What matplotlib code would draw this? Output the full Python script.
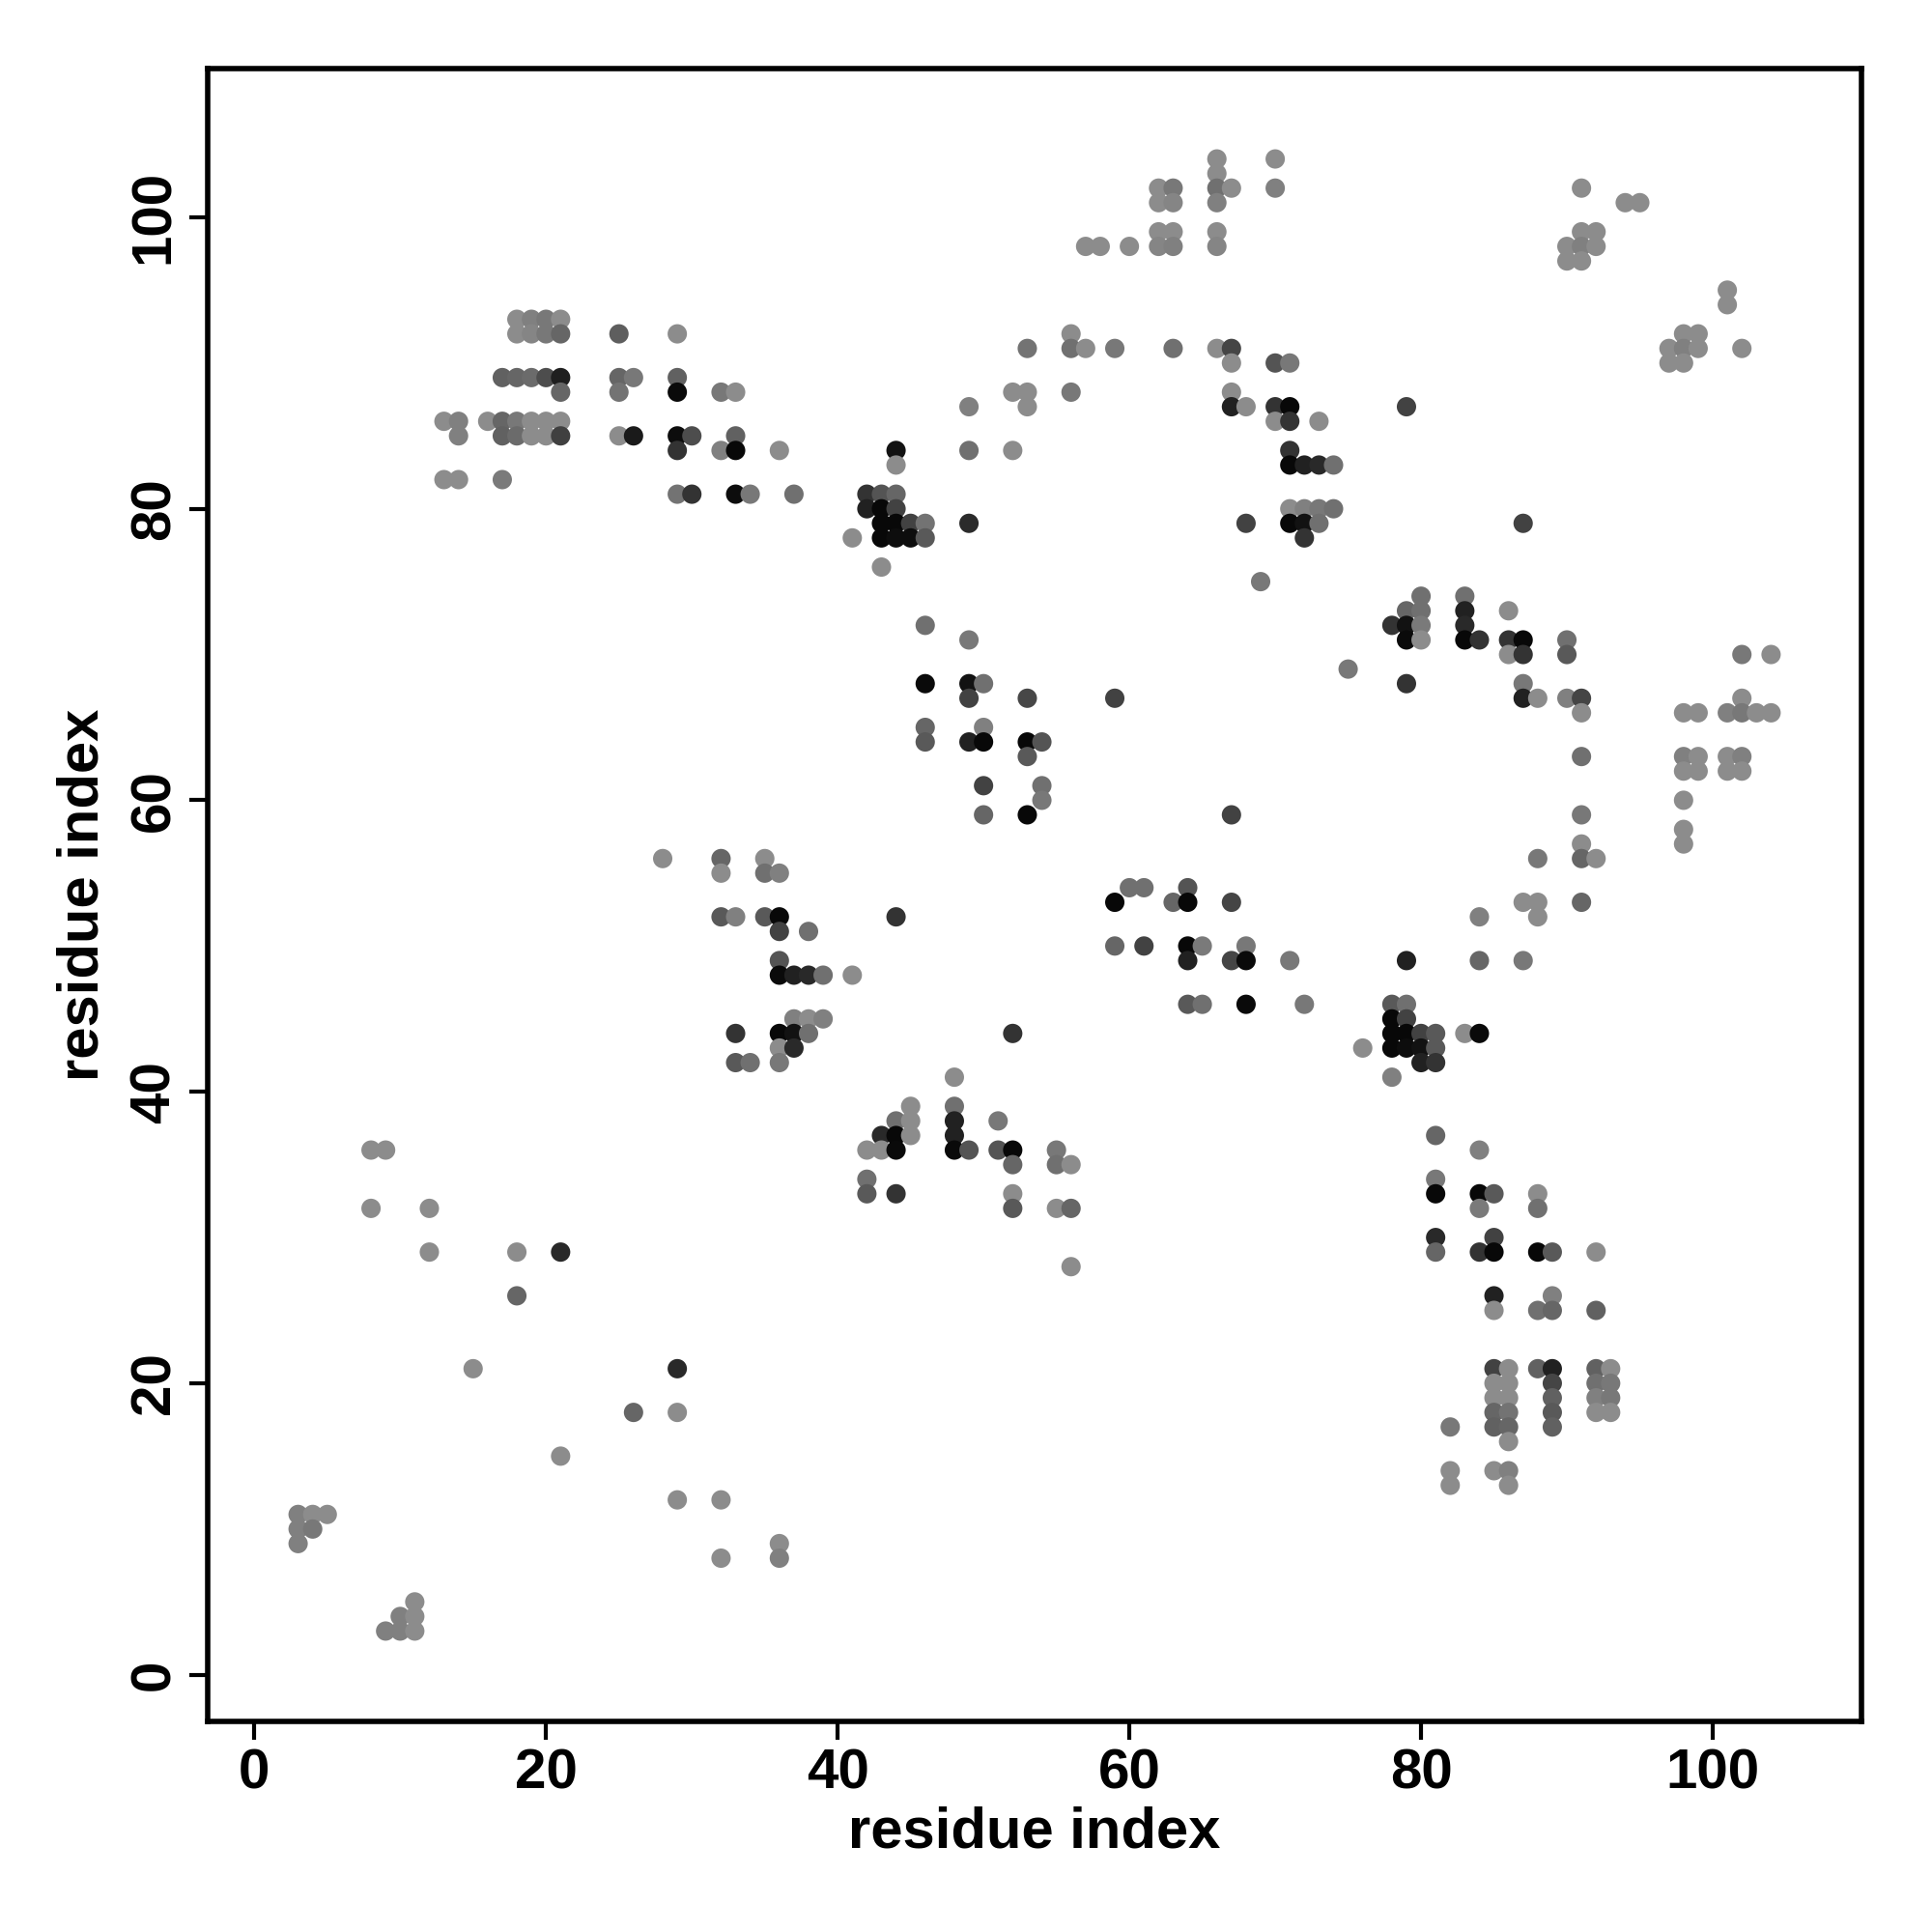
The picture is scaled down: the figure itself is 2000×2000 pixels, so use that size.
import matplotlib
matplotlib.use("Agg")
import matplotlib.pyplot as plt

plt.rcParams['font.family'] = ['Liberation Sans', 'DejaVu Sans']

# residue i (x), residue j (y), grey level of each contact (0 = black, 1 = white)
res_i = [
    18, 19, 20, 21, 18, 19, 20, 21, 25, 17, 18, 19, 20, 21, 25, 26, 21, 25,
    13, 14, 16, 17, 18, 19, 20, 21, 14, 17, 18, 19, 20, 21, 25, 26, 13, 14, 17,
    29, 29, 29, 32, 33, 53, 52, 53, 53, 49, 29, 30, 33, 29, 32, 33, 36, 44, 49, 52, 44,
    29, 30, 33, 34, 37, 42, 43, 44, 42, 43, 44, 43, 44, 45, 46, 49, 41, 43, 44, 45, 46, 43,
    66, 66, 66, 67, 66, 70, 70, 62, 63, 62, 63, 62, 63, 62, 63, 66, 66, 57, 58, 60,
    56, 56, 57, 59, 63, 66, 67, 67, 70, 71, 56, 67, 67, 68, 70, 71, 79, 70, 71, 73, 71,
    71, 72, 73, 74, 71, 72, 73, 74, 71, 72, 73, 68, 72,
    91, 94, 95, 91, 92, 90, 91, 92, 90, 91, 101, 101, 98, 99, 97, 98, 99, 102, 97, 98, 87,
    46, 49, 46, 49, 50, 49, 53, 46, 50, 46, 49, 50, 53, 54, 53, 50, 54, 54, 50, 53,
    28, 32, 35, 32, 35, 36, 32, 33, 35, 36, 44, 36, 38, 36, 36, 37, 38, 39, 41,
    37, 38, 39, 33, 36, 37, 38, 52, 36, 37, 33, 34, 36, 48,
    69, 80, 79, 80, 78, 79, 80, 79, 80, 75, 79, 59, 67, 60, 61, 64, 59, 63, 64, 67,
    59, 61, 64, 65, 68, 64, 67, 68, 71, 79, 64, 65, 68, 72, 78, 79, 78, 79,
    78, 79, 80, 81, 76, 78, 79, 80, 81, 80, 81, 78,
    83, 83, 86, 83, 83, 84, 86, 87, 90, 86, 87, 90, 87, 87, 88, 90, 91, 91, 91, 91, 91,
    88, 91, 92, 87, 88, 91, 84, 88, 84, 87, 83, 84,
    102, 104, 102, 98, 99, 101, 102, 103, 104, 98, 99, 101, 102, 98, 99, 101, 102, 98, 98, 98,
    8, 9, 8, 12, 12, 18, 21, 18, 15, 26, 21, 3, 4, 5, 3, 4, 3, 11, 10, 11, 9, 10, 11,
    45, 48, 44, 45, 48, 51, 43, 44, 45, 48, 42, 43, 44, 48, 49, 51, 52, 52, 42, 42, 44, 52, 52,
    29, 29, 29, 32, 36, 32, 36,
    55, 55, 56, 55, 56, 56, 81, 81, 81, 81, 81,
    84, 84, 85, 88, 84, 88, 85, 84, 85, 88, 89, 92, 85, 89, 85, 88, 89, 92,
    85, 86, 88, 89, 92, 93, 85, 86, 89, 92, 93, 85, 86, 89, 92, 93, 85, 86, 89, 92, 93,
    82, 85, 86, 89, 86, 82, 85, 86, 82, 86,
]

res_j = [
    93, 93, 93, 93, 92, 92, 92, 92, 92, 89, 89, 89, 89, 89, 89, 89, 88, 88,
    86, 86, 86, 86, 86, 86, 86, 86, 85, 85, 85, 85, 85, 85, 85, 85, 82, 82, 82,
    92, 89, 88, 88, 88, 91, 88, 88, 87, 87, 85, 85, 85, 84, 84, 84, 84, 84, 84, 84, 83,
    81, 81, 81, 81, 81, 81, 81, 81, 80, 80, 80, 79, 79, 79, 79, 79, 78, 78, 78, 78, 78, 76,
    104, 103, 102, 102, 101, 104, 102, 102, 102, 101, 101, 99, 99, 98, 98, 99, 98, 98, 98, 98,
    92, 91, 91, 91, 91, 91, 91, 90, 90, 90, 88, 88, 87, 87, 87, 87, 87, 86, 86, 86, 84,
    83, 83, 83, 83, 80, 80, 80, 80, 79, 79, 79, 79, 78,
    102, 101, 101, 99, 99, 98, 98, 98, 97, 97, 95, 94, 92, 92, 91, 91, 91, 91, 90, 90, 79,
    72, 71, 68, 68, 68, 67, 67, 65, 65, 64, 64, 64, 64, 64, 63, 61, 61, 60, 59, 59,
    56, 56, 56, 55, 55, 55, 52, 52, 52, 52, 52, 51, 51, 49, 48, 48, 48, 48, 48,
    45, 45, 45, 44, 44, 44, 44, 44, 43, 43, 42, 42, 42, 41,
    75, 74, 73, 73, 72, 72, 72, 71, 71, 69, 68, 67, 59, 54, 54, 54, 53, 53, 53, 53,
    50, 50, 50, 50, 50, 49, 49, 49, 49, 49, 46, 46, 46, 46, 46, 46, 45, 45,
    44, 44, 44, 44, 43, 43, 43, 43, 43, 42, 42, 41,
    74, 73, 73, 72, 71, 71, 71, 71, 71, 70, 70, 70, 68, 67, 67, 67, 67, 66, 63, 59, 57,
    56, 56, 56, 53, 53, 53, 52, 52, 49, 49, 44, 44,
    70, 70, 67, 66, 66, 66, 66, 66, 66, 63, 63, 63, 63, 62, 62, 62, 62, 60, 58, 57,
    36, 36, 32, 32, 29, 29, 29, 26, 21, 18, 15, 11, 11, 11, 10, 10, 9, 5, 4, 4, 3, 3, 3,
    39, 39, 38, 38, 38, 38, 37, 37, 37, 37, 36, 36, 36, 36, 36, 36, 36, 35, 34, 33, 33, 33, 32,
    21, 18, 12, 12, 9, 8, 8,
    36, 35, 35, 32, 32, 28, 37, 34, 33, 30, 29,
    36, 33, 33, 33, 32, 32, 30, 29, 29, 29, 29, 29, 26, 26, 25, 25, 25, 25,
    21, 21, 21, 21, 21, 21, 20, 20, 20, 20, 20, 19, 19, 19, 19, 19, 18, 18, 18, 18, 18,
    17, 17, 17, 17, 16, 14, 14, 14, 13, 13,
]

shade = [
    .55, .50, .47, .55, .55, .52, .47, .40, .37, .38, .40, .42, .30, .12, .40, .47, .40, .45,
    .55, .50, .55, .40, .47, .55, .55, .55, .50, .38, .42, .55, .55, .25, .55, .10, .55, .55, .48,
    .55, .38, .04, .47, .55, .45, .55, .55, .55, .50, .05, .30, .38, .20, .50, .03, .55, .07, .44, .55, .55,
    .45, .20, .05, .47, .44, .20, .33, .40, .13, .03, .26, .03, .03, .26, .45, .17, .55, .03, .05, .05, .35, .55,
    .55, .55, .44, .55, .50, .55, .50, .55, .47, .55, .52, .55, .55, .52, .50, .55, .52, .55, .55, .55,
    .55, .44, .55, .47, .44, .55, .27, .55, .33, .47, .47, .55, .13, .55, .20, .03, .26, .55, .20, .55, .20,
    .03, .13, .16, .44, .55, .50, .47, .44, .03, .07, .44, .26, .20,
    .55, .55, .55, .55, .55, .55, .50, .55, .55, .55, .55, .55, .55, .55, .55, .50, .55, .55, .55, .55, .26,
    .44, .47, .04, .07, .44, .26, .28, .40, .50, .35, .13, .03, .03, .33, .35, .26, .44, .47, .40, .03,
    .55, .40, .55, .55, .44, .50, .35, .50, .35, .03, .20, .26, .44, .33, .04, .13, .16, .44, .55,
    .50, .55, .50, .20, .03, .07, .44, .20, .55, .16, .35, .44, .47, .55,
    .47, .44, .40, .44, .20, .07, .48, .04, .55, .47, .20, .26, .26, .44, .44, .33, .03, .40, .03, .27,
    .40, .26, .03, .48, .47, .13, .27, .04, .47, .13, .35, .44, .04, .47, .35, .44, .03, .26,
    .03, .03, .26, .35, .55, .03, .05, .07, .35, .13, .20, .50,
    .44, .13, .55, .16, .03, .20, .20, .03, .44, .55, .20, .35, .47, .13, .55, .50, .27, .55, .44, .47, .55,
    .47, .40, .55, .55, .55, .40, .50, .55, .40, .47, .55, .04,
    .47, .55, .55, .55, .55, .50, .47, .55, .55, .50, .55, .55, .50, .55, .55, .55, .55, .55, .55, .55,
    .55, .55, .55, .55, .55, .55, .16, .40, .55, .40, .55, .50, .55, .55, .50, .47, .50, .55, .50, .55, .50, .50, .55,
    .55, .44, .44, .55, .13, .47, .16, .03, .55, .13, .55, .55, .04, .04, .33, .33, .03, .40, .44, .35, .20, .55, .35,
    .16, .55, .55, .55, .55, .55, .50,
    .47, .44, .55, .55, .40, .55, .40, .47, .03, .16, .40,
    .50, .03, .35, .55, .48, .44, .26, .20, .03, .03, .35, .55, .13, .50, .55, .44, .40, .38,
    .26, .55, .38, .13, .38, .55, .55, .55, .27, .44, .47, .55, .55, .38, .50, .47, .40, .45, .35, .55, .55,
    .47, .38, .40, .38, .55, .55, .55, .50, .55, .55,
]

ticks = [0, 20, 40, 60, 80, 100]
axis_label = "residue index"

fig = plt.figure(figsize=(10, 10), dpi=200)
ax = fig.add_axes([0.1075, 0.109, 0.856, 0.8555])

colors = [(g, g, g) for g in shade]
ax.scatter(res_i, res_j, s=52, c=colors, edgecolors='none', zorder=2)

ax.set_xlim(-3.2, 110.2)
ax.set_ylim(-3.2, 110.2)
ax.set_xticks(ticks)
ax.set_yticks(ticks)
ax.set_xticklabels([str(t) for t in ticks], fontsize=21, fontweight='bold')
ax.set_yticklabels([str(t) for t in ticks], fontsize=21, fontweight='bold',
                   rotation=90, va='center')
ax.tick_params(axis='both', direction='out', length=7, width=1.5, pad=3)
for sp in ax.spines.values():
    sp.set_linewidth(2.0)
ax.set_xlabel(axis_label, fontsize=21.5, fontweight='bold', labelpad=2)
ax.set_ylabel(axis_label, fontsize=21.5, fontweight='bold', labelpad=7)

fig.savefig("out.png", dpi=200, facecolor='white')
